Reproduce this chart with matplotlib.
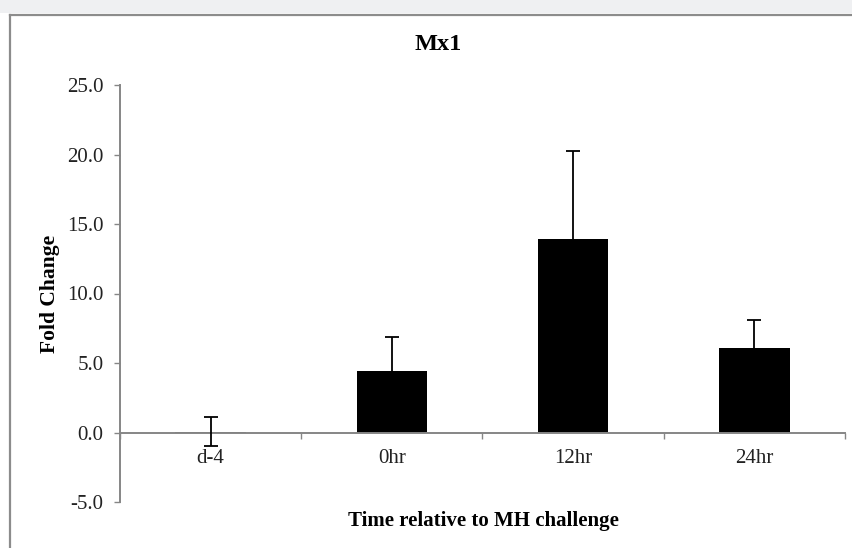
#!/usr/bin/env python3
# -*- coding: utf-8 -*-

import numpy as np
import matplotlib
matplotlib.use("Agg")
import matplotlib.pyplot as plt
from matplotlib.lines import Line2D
from matplotlib.patches import Rectangle

# Mx1 expression, fold change relative to baseline
categories = ["d-4", "0hr", "12hr", "24hr"]
fold_change = [0.05, 4.45, 13.92, 6.1]
fold_err = [1.05, 2.45, 6.35, 2.0]
y_ticks = [-5.0, 0.0, 5.0, 10.0, 15.0, 20.0, 25.0]

plt.rcParams["font.family"] = ["Liberation Serif", "DejaVu Serif"]

fig = plt.figure(figsize=(8.53, 5.48), dpi=100)
W, H = 853, 548

# light strip on top and the gray frame of the chart area
fig.patches.append(Rectangle((0, 1 - 13 / H), 1, 13 / H, transform=fig.transFigure,
                             facecolor="#eff0f2", edgecolor="none", zorder=0))
fig.lines.append(Line2D([10.5 / W, 1], [1 - 14.5 / H, 1 - 14.5 / H],
                        transform=fig.transFigure, color="#8c8c8c", lw=1.6))
fig.lines.append(Line2D([10.5 / W, 10.5 / W], [0, 1 - 14.5 / H],
                        transform=fig.transFigure, color="#8c8c8c", lw=1.6))

ax = fig.add_axes([120 / W, 1 - 502 / H, (845 - 120) / W, (502 - 85) / H])

x = np.arange(len(categories))
ax.bar(x, fold_change, width=0.39, color="black", zorder=2)
ax.errorbar(x, fold_change, yerr=fold_err, fmt="none", ecolor="black",
            elinewidth=1.3, capsize=5, capthick=1.3, zorder=3)

ax.set_xlim(-0.5, len(categories) - 0.5)
ax.set_ylim(-5, 25)
ax.set_yticks(y_ticks)
ax.set_yticklabels([f"{v:.1f}" for v in y_ticks])

ax.set_xticks(x)
ax.set_xticklabels(categories)
ax.set_xticks(np.arange(-0.5, len(categories)), minor=True)
ax.tick_params(axis="x", which="major", length=0, pad=12, labelsize=15,
               labelcolor="#222222")
ax.tick_params(axis="x", which="minor", length=4, width=1, color="#868686",
               direction="out")
ax.tick_params(axis="y", length=4, width=1, color="#868686", pad=8,
               labelsize=15, labelcolor="#222222")

for side in ("top", "right"):
    ax.spines[side].set_visible(False)
ax.spines["bottom"].set_position(("data", 0))
for side in ("left", "bottom"):
    ax.spines[side].set_color("#868686")
    ax.spines[side].set_linewidth(1.4)
    ax.spines[side].set_zorder(2.5)

fig.text(438 / W, 1 - 44 / H, "Mx1", ha="center", va="center",
         fontsize=17.5, fontweight="bold")
fig.text(50 / W, 1 - 294 / H, "Fold Change", ha="center", va="center",
         rotation=90, fontsize=15.5, fontweight="bold")
fig.text(483 / W, 1 - 521 / H, "Time relative to MH challenge", ha="center",
         va="center", fontsize=15, fontweight="bold")

fig.savefig("out.png", dpi=100)
